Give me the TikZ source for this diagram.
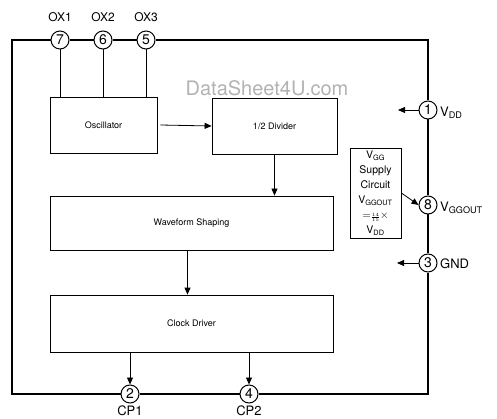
\documentclass[tikz,border=0pt]{standalone}
\usepackage{fontspec}
\setmainfont{TeX Gyre Heros}
\usetikzlibrary{arrows.meta}
\begin{document}
\begin{tikzpicture}[x=1pt,y=-1pt,
 pin/.style={circle,draw,line width=1pt,fill=white,minimum size=18pt,inner sep=0pt,font=\fontsize{14}{14}\selectfont},
 blk/.style={draw,line width=0.8pt,inner sep=0pt,font=\fontsize{9}{10}\selectfont},
 arr/.style={-{Triangle[length=7pt,width=6pt]},line width=0.8pt},
 outer/.style={line width=1.3pt},
 lbl/.style={font=\fontsize{13}{13}\selectfont,inner sep=1pt}]
\useasboundingbox (0,0) rectangle (497,419);
% watermark
\node[text=black!30,font=\fontsize{20}{20}\selectfont] (wm) at (267,88) {DataSheet4U.com};
% blocks
\node[blk,minimum width=107pt,minimum height=56pt] (osc) at (103.5,125) {Oscillator};
\node[blk,minimum width=125pt,minimum height=56pt] (div) at (274.5,126) {1/2 Divider};
\node[blk,minimum width=283pt,minimum height=54pt] (wave) at (191.5,223) {Waveform Shaping};
\node[blk,minimum width=283pt,minimum height=57pt] (clk) at (191.5,323.5) {Clock Driver};
\node[blk,minimum width=51pt,minimum height=90pt,align=center,font=\fontsize{10.5}{15}\selectfont] (vgg) at (375.5,193)
 {V\textsubscript{GG}\\Supply\\Circuit\\V\textsubscript{GGOUT}\\$=\scriptscriptstyle\frac{14}{15}\textstyle\times$\\V\textsubscript{DD}};
% pins
\node[pin] (p7) at (60,40) {7};
\node[pin] (p6) at (103,40) {6};
\node[pin] (p5) at (146,40) {5};
\node[pin] (p1) at (428,110) {1};
\node[pin] (p8) at (428,205) {8};
\node[pin] (p3) at (428,263) {3};
\node[pin] (p2) at (130,394) {2};
\node[pin] (p4) at (249,394) {4};
% pin labels
\node[lbl,font=\fontsize{12}{12}\selectfont] (l7) at (60,17) {OX1};
\node[lbl,font=\fontsize{12}{12}\selectfont] (l6) at (103,17) {OX2};
\node[lbl,font=\fontsize{12}{12}\selectfont] (l5) at (146,17) {OX3};
\node[lbl,anchor=west] (l1) at (439,113) {V\textsubscript{DD}};
\node[lbl,anchor=west] (l8) at (439,208) {V\textsubscript{GGOUT}};
\node[lbl,anchor=west] (l3) at (439,264) {GND};
\node[lbl,anchor=north] (l2) at (130,405) {CP1};
\node[lbl,anchor=north] (l4) at (249,405) {CP2};
% outer frame
\coordinate (tl) at (12,40);
\coordinate (bl) at (12,394);
\coordinate (tr) at (428,40);
\coordinate (br) at (428,394);
\draw[outer] (p7.west) -- (tl) -- (bl) -- (p2.west);
\draw[outer] (p2.east) -- (p4.west);
\draw[outer] (p4.east) -- (br) -- (p3.south);
\draw[outer] (p3.north) -- (p8.south);
\draw[outer] (p8.north) -- (p1.south);
\draw[outer] (p1.north) -- (tr) -- (p5.east);
\draw[outer] (p5.west) -- (p6.east);
\draw[outer] (p6.west) -- (p7.east);
% pin to oscillator
\draw[line width=0.8pt] (p7.south) -- (p7.south |- osc.north);
\draw[line width=0.8pt] (p6.south) -- (p6.south |- osc.north);
\draw[line width=0.8pt] (p5.south) -- (p5.south |- osc.north);
% signal arrows
\draw[arr] ([xshift=3pt]osc.east) -- (div.west);
\draw[arr] (div.south) -- (div.south |- wave.north);
\draw[arr] ([xshift=-4pt]wave.south) -- ([xshift=-4pt]clk.north);
\draw[arr] (clk.south -| p2) -- (p2.north);
\draw[arr] (clk.south -| p4) -- (p4.north);
\draw[arr] (vgg.east) -- (p8.west);
\coordinate (a1) at (398,110);
\coordinate (a3) at (397,263);
\draw[arr] (p1.west) -- (a1);
\draw[arr] (p3.west) -- (a3);
\end{tikzpicture}
\end{document}
